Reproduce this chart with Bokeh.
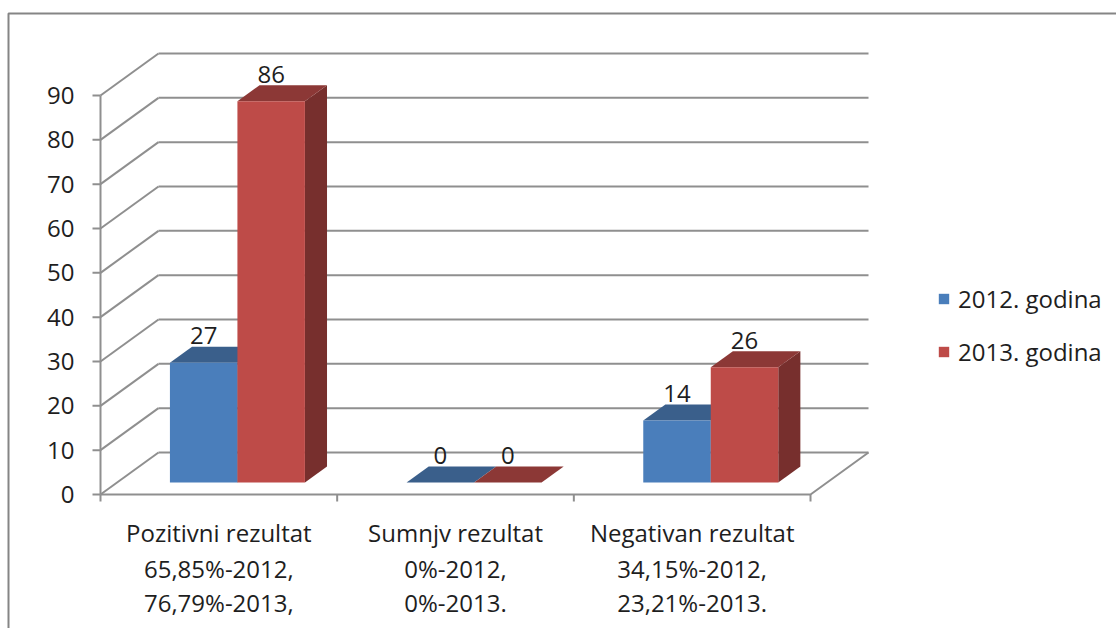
import numpy as np
from bokeh.plotting import figure
from bokeh.models import Range1d, Legend, LegendItem
from bokeh.core.properties import value
from bokeh.embed import file_html
from bokeh.resources import INLINE

# ---------------- data ----------------
categories = ["Pozitivni rezultat", "Sumnjv rezultat", "Negativan rezultat"]
notes_2012 = ["65,85%-2012,", "0%-2012,", "34,15%-2012,"]
notes_2013 = ["76,79%-2013,", "0%-2013.", "23,21%-2013."]
series_names = ["2012. godina", "2013. godina"]
values_2012 = [27, 0, 14]
values_2013 = [86, 0, 26]
y_ticks = [0, 10, 20, 30, 40, 50, 60, 70, 80, 90]

# ---------------- layout ----------------
W, H = 1116, 628
PPX = 236.67          # pixels per category
PPY = 4.4333          # pixels per value unit
OX = 100              # canvas x of category 0
OY = H - 494          # canvas y (from bottom) of value 0
FONT_NAME = "Open Sans"
FONT = value(FONT_NAME)
FS = "24px"
TXT = "#1e1e1e"
GRID = "#8f8f8f"

def px(n):
    return n / PPX

def py(n):
    return n / PPY

x0, x1 = -OX / PPX, (W - OX) / PPX
y0, y1 = -OY / PPY, (H - OY) / PPY

p = figure(width=W, height=H, x_range=Range1d(x0, x1), y_range=Range1d(y0, y1),
           output_backend="svg", toolbar_location=None,
           x_axis_location=None, y_axis_location=None, min_border=0)
p.outline_line_color = None
p.background_fill_color = "white"
p.border_fill_color = "white"
p.grid.grid_line_color = None
p.xgrid.visible = False
p.ygrid.visible = False

ncat = len(categories)
DX, DY = px(58), py(42)          # floor depth offset
F0, F1 = 0.286, 0.667            # bar front/back depth fractions
BW = px(67.5)                    # bar width
ymax = y_ticks[-1]

# outer border (top and left)
p.line([x0 + px(8), x0 + px(8), x1], [y0, y1 - py(13), y1 - py(13)], line_color="#858585", line_width=2)

# back wall gridlines
p.multi_line([[DX, ncat + DX] for v in y_ticks], [[v + DY, v + DY] for v in y_ticks],
             line_color=GRID, line_width=2)
# left wall diagonals
p.multi_line([[0, DX] for v in y_ticks], [[v, v + DY] for v in y_ticks],
             line_color=GRID, line_width=2)
# floor
p.line([0, ncat, ncat + DX], [0, 0, DY], line_color=GRID, line_width=2)

# ---------------- bars ----------------
colors = {
    0: dict(front="#4A7EBB", top="#3A5F8B", side="#2F4E74"),
    1: dict(front="#BE4B48", top="#8C3836", side="#772F2D"),
}
sx0, sy0 = F0 * DX, F0 * DY
ddx, ddy = (F1 - F0) * DX, (F1 - F0) * DY

front_renderers = []
label_x, label_y, label_t = [], [], []
for s, vals in enumerate([values_2012, values_2013]):
    c = np.arange(ncat) + 0.5 + sx0 + px(2)
    left = c - BW + s * BW
    right = left + BW
    vals = np.array(vals, dtype=float)
    top = vals + sy0
    bot = np.full(ncat, sy0)
    p.patches([[r, r + ddx, r + ddx, r] for r in right],
              [[b, b + ddy, t + ddy, t] for b, t in zip(bot, top)],
              fill_color=colors[s]["side"], line_color=None)
    p.patches([[l, r, r + ddx, l + ddx] for l, r in zip(left, right)],
              [[t, t, t + ddy, t + ddy] for t in top],
              fill_color=colors[s]["top"], line_color=None)
    fr = p.quad(left=left, right=right, bottom=bot, top=top,
                fill_color=colors[s]["front"], line_color=None)
    front_renderers.append(fr)
    label_x += list((left + right) / 2)
    label_y += list(top + py(27))
    label_t += [str(int(v)) for v in vals]

# data labels
p.text(label_x, label_y, text=label_t, text_font=FONT, text_font_size=FS,
       text_color=TXT, text_align="center", text_baseline="middle")

# ---------------- axes ----------------
p.line([0, 0], [0, ymax], line_color=GRID, line_width=2)
p.segment(x0=[-px(8)] * len(y_ticks), y0=y_ticks, x1=[0] * len(y_ticks), y1=y_ticks,
          line_color=GRID, line_width=2)
p.segment(x0=list(range(ncat + 1)), y0=[0] * (ncat + 1), x1=list(range(ncat + 1)),
          y1=[-py(7)] * (ncat + 1), line_color=GRID, line_width=2)
p.text([-px(26)] * len(y_ticks), y_ticks, text=[str(v) for v in y_ticks],
       text_font=FONT, text_font_size=FS, text_color=TXT,
       text_align="right", text_baseline="middle")

cx = np.arange(ncat) + 0.5
for lines, off in [(categories, 38), (notes_2012, 74), (notes_2013, 108)]:
    p.text(cx, [-py(off)] * ncat, text=lines, text_font=FONT, text_font_size=FS,
           text_color=TXT, text_align="center", text_baseline="middle")

# ---------------- legend ----------------
legend = Legend(items=[LegendItem(label=series_names[i], renderers=[front_renderers[i]]) for i in range(2)],
                location=(937, 260), orientation="vertical",
                glyph_width=13, glyph_height=13, label_standoff=8,
                label_height=30, spacing=20, padding=0, margin=0,
                label_text_font=FONT_NAME, label_text_font_size=FS, label_text_color=TXT,
                border_line_color=None, background_fill_alpha=0)
p.add_layout(legend)

open("out.html", "w").write(file_html(p, INLINE))
